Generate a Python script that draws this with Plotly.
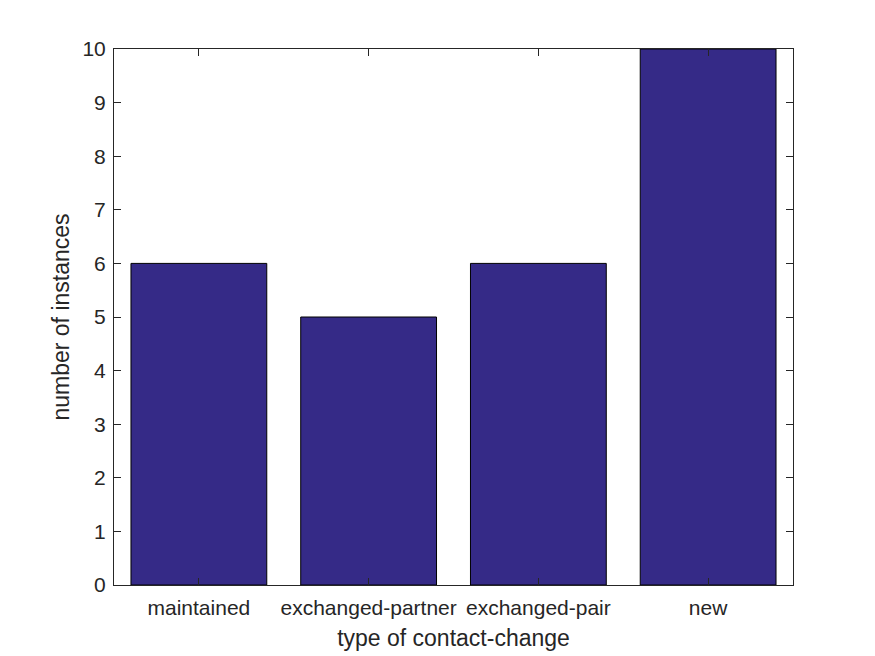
import plotly.graph_objects as go

categories = ["maintained", "exchanged-partner", "exchanged-pair", "new"]
counts = [6, 5, 6, 10]
y_ticks = list(range(0, 11))

axis_color = "#262626"
font_family = "Arial, Liberation Sans, Helvetica, sans-serif"

fig = go.Figure(
    go.Bar(
        x=categories,
        y=counts,
        marker=dict(color="#352A87", line=dict(color="black", width=1)),
        width=0.8,
    )
)

# page body has an 8px margin; compensate so the axes box lands at (114,49)-(792,585)
fig.update_layout(
    width=875,
    height=656,
    paper_bgcolor="white",
    plot_bgcolor="white",
    margin=dict(l=106, r=90, t=41, b=79),
    showlegend=False,
    font=dict(family=font_family, color=axis_color, size=21),
)

fig.update_xaxes(
    range=[-0.5, 3.5],
    showline=True,
    linecolor=axis_color,
    linewidth=1,
    mirror="allticks",
    ticks="inside",
    ticklen=7,
    tickcolor=axis_color,
    tickfont=dict(size=21, color=axis_color),
    ticklabelstandoff=4,
    showgrid=False,
    zeroline=False,
    title=dict(text="type of contact-change", font=dict(size=23, color=axis_color), standoff=11),
)

fig.update_yaxes(
    range=[0, 10],
    tickvals=y_ticks,
    showline=True,
    linecolor=axis_color,
    linewidth=1,
    mirror="allticks",
    ticks="inside",
    ticklen=7,
    tickcolor=axis_color,
    tickfont=dict(size=21, color=axis_color),
    ticklabelstandoff=3,
    showgrid=False,
    zeroline=False,
    title=dict(text="number of instances", font=dict(size=23, color=axis_color), standoff=6),
)

fig.write_html("out.html")
